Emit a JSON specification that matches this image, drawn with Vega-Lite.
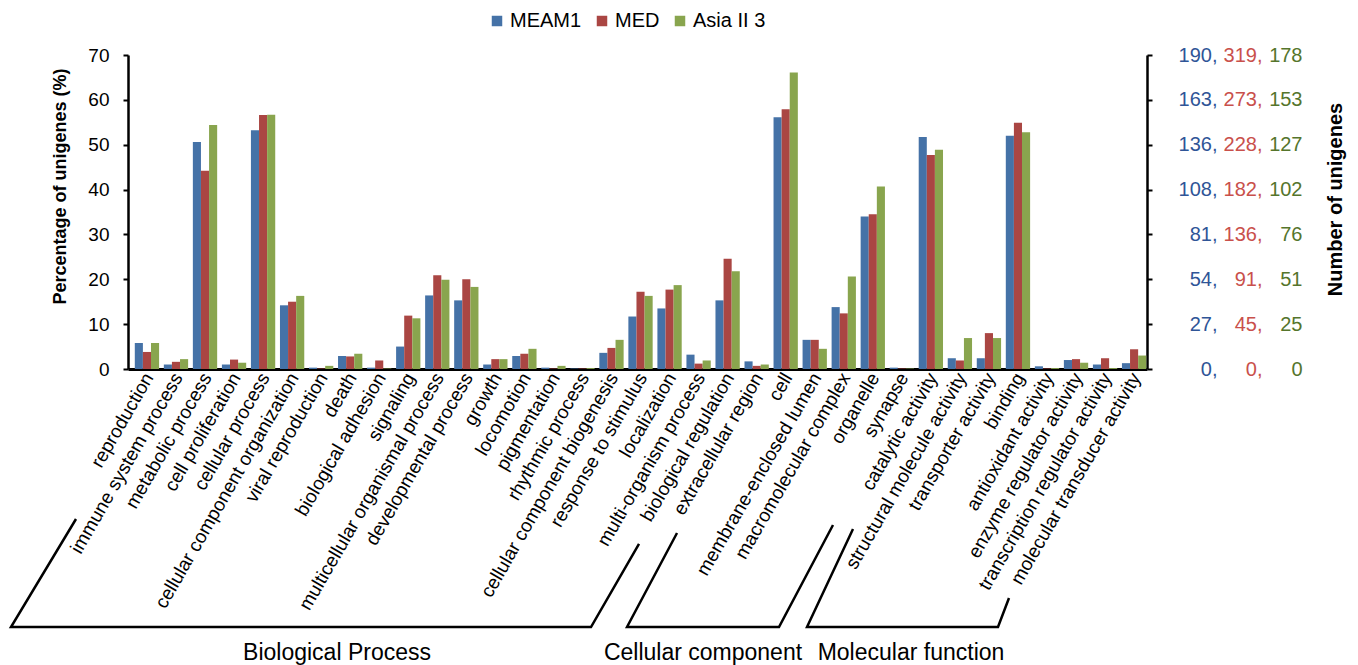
{
  "$schema": "https://vega.github.io/schema/vega-lite/v6.json",
  "width": 1019,
  "height": 314,
  "autosize": {"type": "none"},
  "padding": {"left": 128, "top": 55, "right": 211, "bottom": 296},
  "background": "white",
  "config": {
    "view": {"stroke": null},
    "font": "Liberation Sans",
    "axis": {"labelFont": "Liberation Sans", "titleFont": "Liberation Sans", "grid": false},
    "legend": {"labelFont": "Liberation Sans"},
    "text": {"font": "Liberation Sans"}
  },
  "datasets": {
    "bars": [
      {"cat": "reproduction", "series": "MEAM1", "pct": 5.8}, {"cat": "reproduction", "series": "MED", "pct": 3.8}, {"cat": "reproduction", "series": "Asia II 3", "pct": 5.8},
      {"cat": "immune system process", "series": "MEAM1", "pct": 1.0}, {"cat": "immune system process", "series": "MED", "pct": 1.6}, {"cat": "immune system process", "series": "Asia II 3", "pct": 2.2},
      {"cat": "metabolic process", "series": "MEAM1", "pct": 50.6}, {"cat": "metabolic process", "series": "MED", "pct": 44.2}, {"cat": "metabolic process", "series": "Asia II 3", "pct": 54.4},
      {"cat": "cell proliferation", "series": "MEAM1", "pct": 1.0}, {"cat": "cell proliferation", "series": "MED", "pct": 2.1}, {"cat": "cell proliferation", "series": "Asia II 3", "pct": 1.4},
      {"cat": "cellular process", "series": "MEAM1", "pct": 53.2}, {"cat": "cellular process", "series": "MED", "pct": 56.6}, {"cat": "cellular process", "series": "Asia II 3", "pct": 56.7},
      {"cat": "cellular component organization", "series": "MEAM1", "pct": 14.2}, {"cat": "cellular component organization", "series": "MED", "pct": 15.0}, {"cat": "cellular component organization", "series": "Asia II 3", "pct": 16.3},
      {"cat": "viral reproduction", "series": "MEAM1", "pct": 0.3}, {"cat": "viral reproduction", "series": "MED", "pct": 0.1}, {"cat": "viral reproduction", "series": "Asia II 3", "pct": 0.7},
      {"cat": "death", "series": "MEAM1", "pct": 2.9}, {"cat": "death", "series": "MED", "pct": 2.8}, {"cat": "death", "series": "Asia II 3", "pct": 3.4},
      {"cat": "biological adhesion", "series": "MEAM1", "pct": 0.3}, {"cat": "biological adhesion", "series": "MED", "pct": 1.9}, {"cat": "biological adhesion", "series": "Asia II 3", "pct": 0.1},
      {"cat": "signaling", "series": "MEAM1", "pct": 5.0}, {"cat": "signaling", "series": "MED", "pct": 11.9}, {"cat": "signaling", "series": "Asia II 3", "pct": 11.3},
      {"cat": "multicellular organismal process", "series": "MEAM1", "pct": 16.4}, {"cat": "multicellular organismal process", "series": "MED", "pct": 20.9}, {"cat": "multicellular organismal process", "series": "Asia II 3", "pct": 19.9},
      {"cat": "developmental process", "series": "MEAM1", "pct": 15.3}, {"cat": "developmental process", "series": "MED", "pct": 20.0}, {"cat": "developmental process", "series": "Asia II 3", "pct": 18.3},
      {"cat": "growth", "series": "MEAM1", "pct": 1.0}, {"cat": "growth", "series": "MED", "pct": 2.2}, {"cat": "growth", "series": "Asia II 3", "pct": 2.2},
      {"cat": "locomotion", "series": "MEAM1", "pct": 2.9}, {"cat": "locomotion", "series": "MED", "pct": 3.4}, {"cat": "locomotion", "series": "Asia II 3", "pct": 4.5},
      {"cat": "pigmentation", "series": "MEAM1", "pct": 0.3}, {"cat": "pigmentation", "series": "MED", "pct": 0.1}, {"cat": "pigmentation", "series": "Asia II 3", "pct": 0.7},
      {"cat": "rhythmic process", "series": "MEAM1", "pct": 0.1}, {"cat": "rhythmic process", "series": "MED", "pct": 0.1}, {"cat": "rhythmic process", "series": "Asia II 3", "pct": 0.2},
      {"cat": "cellular component biogenesis", "series": "MEAM1", "pct": 3.6}, {"cat": "cellular component biogenesis", "series": "MED", "pct": 4.7}, {"cat": "cellular component biogenesis", "series": "Asia II 3", "pct": 6.5},
      {"cat": "response to stimulus", "series": "MEAM1", "pct": 11.7}, {"cat": "response to stimulus", "series": "MED", "pct": 17.2}, {"cat": "response to stimulus", "series": "Asia II 3", "pct": 16.3},
      {"cat": "localization", "series": "MEAM1", "pct": 13.5}, {"cat": "localization", "series": "MED", "pct": 17.7}, {"cat": "localization", "series": "Asia II 3", "pct": 18.7},
      {"cat": "multi-organism process", "series": "MEAM1", "pct": 3.2}, {"cat": "multi-organism process", "series": "MED", "pct": 1.2}, {"cat": "multi-organism process", "series": "Asia II 3", "pct": 1.9},
      {"cat": "biological regulation", "series": "MEAM1", "pct": 15.3}, {"cat": "biological regulation", "series": "MED", "pct": 24.6}, {"cat": "biological regulation", "series": "Asia II 3", "pct": 21.8},
      {"cat": "extracellular region", "series": "MEAM1", "pct": 1.7}, {"cat": "extracellular region", "series": "MED", "pct": 0.7}, {"cat": "extracellular region", "series": "Asia II 3", "pct": 1.0},
      {"cat": "cell", "series": "MEAM1", "pct": 56.1}, {"cat": "cell", "series": "MED", "pct": 57.9}, {"cat": "cell", "series": "Asia II 3", "pct": 66.1},
      {"cat": "membrane-enclosed lumen", "series": "MEAM1", "pct": 6.5}, {"cat": "membrane-enclosed lumen", "series": "MED", "pct": 6.5}, {"cat": "membrane-enclosed lumen", "series": "Asia II 3", "pct": 4.5},
      {"cat": "macromolecular complex", "series": "MEAM1", "pct": 13.8}, {"cat": "macromolecular complex", "series": "MED", "pct": 12.4}, {"cat": "macromolecular complex", "series": "Asia II 3", "pct": 20.6},
      {"cat": "organelle", "series": "MEAM1", "pct": 34.0}, {"cat": "organelle", "series": "MED", "pct": 34.5}, {"cat": "organelle", "series": "Asia II 3", "pct": 40.7},
      {"cat": "synapse", "series": "MEAM1", "pct": 0.3}, {"cat": "synapse", "series": "MED", "pct": 0.1}, {"cat": "synapse", "series": "Asia II 3", "pct": 0.1},
      {"cat": "catalytic activity", "series": "MEAM1", "pct": 51.7}, {"cat": "catalytic activity", "series": "MED", "pct": 47.7}, {"cat": "catalytic activity", "series": "Asia II 3", "pct": 48.9},
      {"cat": "structural molecule activity", "series": "MEAM1", "pct": 2.4}, {"cat": "structural molecule activity", "series": "MED", "pct": 1.9}, {"cat": "structural molecule activity", "series": "Asia II 3", "pct": 6.9},
      {"cat": "transporter activity", "series": "MEAM1", "pct": 2.4}, {"cat": "transporter activity", "series": "MED", "pct": 8.0}, {"cat": "transporter activity", "series": "Asia II 3", "pct": 6.9},
      {"cat": "binding", "series": "MEAM1", "pct": 52.0}, {"cat": "binding", "series": "MED", "pct": 54.9}, {"cat": "binding", "series": "Asia II 3", "pct": 52.8},
      {"cat": "antioxidant activity", "series": "MEAM1", "pct": 0.6}, {"cat": "antioxidant activity", "series": "MED", "pct": 0.1}, {"cat": "antioxidant activity", "series": "Asia II 3", "pct": 0.2},
      {"cat": "enzyme regulator activity", "series": "MEAM1", "pct": 2.0}, {"cat": "enzyme regulator activity", "series": "MED", "pct": 2.2}, {"cat": "enzyme regulator activity", "series": "Asia II 3", "pct": 1.4},
      {"cat": "transcription regulator activity", "series": "MEAM1", "pct": 1.0}, {"cat": "transcription regulator activity", "series": "MED", "pct": 2.4}, {"cat": "transcription regulator activity", "series": "Asia II 3", "pct": 0.2},
      {"cat": "molecular transducer activity", "series": "MEAM1", "pct": 1.3}, {"cat": "molecular transducer activity", "series": "MED", "pct": 4.4}, {"cat": "molecular transducer activity", "series": "Asia II 3", "pct": 3.0}
    ],
    "ticks": [{"t": 0}, {"t": 10}, {"t": 20}, {"t": 30}, {"t": 40}, {"t": 50}, {"t": 60}, {"t": 70}],
    "brackets": [
      {"g": "BP", "o": 1, "bx": -1.786, "by": -33.44}, {"g": "BP", "o": 2, "bx": -4.019, "by": -57.52}, {"g": "BP", "o": 3, "bx": 15.903, "by": -57.52}, {"g": "BP", "o": 4, "bx": 17.552, "by": -39.01},
      {"g": "CC", "o": 1, "bx": 18.857, "by": -36.56}, {"g": "CC", "o": 2, "bx": 17.14, "by": -57.52}, {"g": "CC", "o": 3, "bx": 22.36, "by": -57.52}, {"g": "CC", "o": 4, "bx": 24.215, "by": -34.78},
      {"g": "MF", "o": 1, "bx": 24.902, "by": -35.67}, {"g": "MF", "o": 2, "bx": 23.322, "by": -57.52}, {"g": "MF", "o": 3, "bx": 29.882, "by": -57.52}, {"g": "MF", "o": 4, "bx": 30.26, "by": -51.05}
    ],
    "groups": [
      {"label": "Biological Process", "tx": 7.179, "ty": -63.3},
      {"label": "Cellular component", "tx": 19.75, "ty": -63.3},
      {"label": "Molecular function", "tx": 26.894, "ty": -63.3}
    ]
  },
  "resolve": {"scale": {"x": "independent", "y": "independent"}},
  "layer": [
    {
      "data": {"name": "bars"},
      "mark": {"type": "bar"},
      "encoding": {
        "x": {
          "field": "cat", "type": "nominal", "sort": null,
          "scale": {"paddingInner": 0.163, "paddingOuter": 0.13, "align": 0.9},
          "axis": {"title": null, "labelAngle": -60, "labelFontSize": 19, "labelColor": "black", "ticks": false, "domainColor": "black", "domainWidth": 3, "labelPadding": 5, "labelOffset": 2, "labelLimit": 500, "labelOverlap": false}
        },
        "xOffset": {"field": "series", "type": "nominal", "sort": ["MEAM1", "MED", "Asia II 3"], "scale": {"paddingInner": 0, "paddingOuter": 0}},
        "y": {
          "field": "pct", "type": "quantitative",
          "scale": {"domain": [0, 70], "nice": false},
          "axis": {"orient": "left", "values": [0, 10, 20, 30, 40, 50, 60, 70], "labelFontSize": 19, "labelColor": "black", "labelPadding": 14, "tickSize": 5, "tickWidth": 2, "tickColor": "black", "domainColor": "black", "domainWidth": 2.5, "title": "Percentage of unigenes (%)", "titleFontSize": 18, "titleFontWeight": "bold", "titleColor": "black", "titleAngle": 270, "titleBaseline": "middle", "titleX": -68, "titleY": 131}
        },
        "color": {
          "field": "series", "type": "nominal", "sort": ["MEAM1", "MED", "Asia II 3"],
          "scale": {"domain": ["MEAM1", "MED", "Asia II 3"], "range": ["#4572A7", "#AA4643", "#89A54E"]},
          "legend": {"orient": "none", "legendX": 359, "legendY": -44, "direction": "horizontal", "title": null, "symbolType": "square", "symbolSize": 110, "symbolStrokeWidth": 0, "labelFontSize": 20, "labelColor": "black", "columnPadding": 10, "labelOffset": 3}
        }
      }
    },
    {
      "data": {"name": "ticks"},
      "mark": {"type": "rule", "opacity": 0},
      "encoding": {
        "y": {
          "field": "t", "type": "quantitative", "scale": {"domain": [0, 70], "nice": false},
          "axis": {"orient": "right", "values": [0, 10, 20, 30, 40, 50, 60, 70], "labelExpr": "['0,','27,','54,','81,','108,','136,','163,','190,'][round(datum.value/10)]", "labelAlign": "right", "labelPadding": 65, "labelColor": "#2F5597", "labelFontSize": 20, "tickSize": 5, "tickWidth": 2, "tickColor": "black", "domainColor": "black", "domainWidth": 2.5, "title": null}
        }
      }
    },
    {
      "data": {"name": "ticks"},
      "mark": {"type": "rule", "opacity": 0},
      "encoding": {
        "y": {
          "field": "t", "type": "quantitative", "scale": {"domain": [0, 70], "nice": false},
          "axis": {"orient": "right", "values": [0, 10, 20, 30, 40, 50, 60, 70], "labelExpr": "['0,','45,','91,','136,','182,','228,','273,','319,'][round(datum.value/10)]", "labelAlign": "right", "labelPadding": 115, "labelColor": "#C9504B", "labelFontSize": 20, "ticks": false, "tickSize": 0, "domain": false, "title": null}
        }
      }
    },
    {
      "data": {"name": "ticks"},
      "mark": {"type": "rule", "opacity": 0},
      "encoding": {
        "y": {
          "field": "t", "type": "quantitative", "scale": {"domain": [0, 70], "nice": false},
          "axis": {"orient": "right", "values": [0, 10, 20, 30, 40, 50, 60, 70], "labelExpr": "['0','25','51','76','102','127','153','178'][round(datum.value/10)]", "labelAlign": "right", "labelPadding": 155, "labelColor": "#55752C", "labelFontSize": 20, "ticks": false, "tickSize": 0, "domain": false, "title": "Number of unigenes", "titleFontSize": 20, "titleFontWeight": "bold", "titleColor": "black", "titleAngle": 270, "titleBaseline": "middle", "titleX": 188, "titleY": 144}
        }
      }
    },
    {
      "data": {"name": "brackets"},
      "mark": {"type": "line", "color": "black", "strokeWidth": 2.5, "clip": false},
      "encoding": {
        "x": {"field": "bx", "type": "quantitative", "scale": {"domain": [0, 35], "nice": false, "zero": false}, "axis": null},
        "y": {"field": "by", "type": "quantitative", "scale": {"domain": [0, 70], "nice": false}, "axis": null},
        "detail": {"field": "g", "type": "nominal"},
        "order": {"field": "o", "type": "quantitative"}
      }
    },
    {
      "data": {"name": "groups"},
      "mark": {"type": "text", "fontSize": 23, "color": "black", "align": "center", "baseline": "middle", "clip": false},
      "encoding": {
        "x": {"field": "tx", "type": "quantitative", "scale": {"domain": [0, 35], "nice": false, "zero": false}, "axis": null},
        "y": {"field": "ty", "type": "quantitative", "scale": {"domain": [0, 70], "nice": false}, "axis": null},
        "text": {"field": "label", "type": "nominal"}
      }
    }
  ]
}
